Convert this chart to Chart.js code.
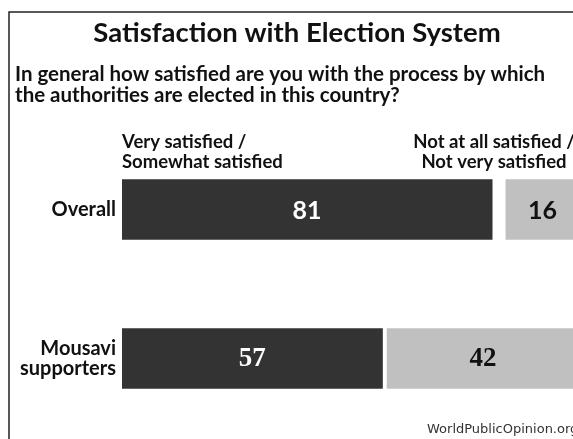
<!DOCTYPE html>
<html>
<head>
<meta charset="utf-8">
<script src="https://cdn.jsdelivr.net/npm/chart.js@4"></script>
<style>
  html, body { margin: 0; padding: 0; background: #fff; overflow: hidden; }
  .wrap { width: 573px; height: 439px; overflow: hidden; position: relative; }
  canvas { display: block; }
</style>
</head>
<body>
<div class="wrap">
  <canvas id="grafico" width="585" height="439"></canvas>
</div>
<script>
// ----- Dados -----
const categorias = ['Overall', ['Mousavi', 'supporters']];
const satisfeitos = [81, 57];
const semResposta = [3, 1];
const insatisfeitos = [16, 42];

const titulo = 'Satisfaction with Election System';
const pergunta = [
  'In general how satisfied are you with the process by which',
  'the authorities are elected in this country?'
];
const cabecalhoEsq = ['Very satisfied /', 'Somewhat satisfied'];
const cabecalhoDir = ['Not at all satisfied /', 'Not very satisfied'];
const fonte = 'WorldPublicOpinion.org';

// fonte dos números: a segunda linha do original usa serifa
const fonteValores = ['bold 25px Lato', 'bold 27px "Liberation Serif"'];

const decoracao = {
  id: 'decoracao',
  afterDatasetsDraw(chart) {
    const ctx = chart.ctx;
    ctx.save();
    ctx.textAlign = 'center';
    ctx.textBaseline = 'middle';
    [0, 2].forEach(ds => {
      const meta = chart.getDatasetMeta(ds);
      meta.data.forEach((bar, i) => {
        const valor = chart.data.datasets[ds].data[i];
        const p = bar.getProps(['x', 'y', 'base'], true);
        ctx.font = fonteValores[i];
        ctx.fillStyle = ds === 0 ? '#ffffff' : '#111111';
        ctx.fillText(String(valor), (p.x + p.base) / 2, p.y + 1);
      });
    });
    ctx.restore();
  },
  afterDraw(chart) {
    const ctx = chart.ctx;
    const area = chart.chartArea;
    ctx.save();

    // moldura
    ctx.strokeStyle = '#222';
    ctx.lineWidth = 1.5;
    ctx.beginPath();
    ctx.moveTo(9, chart.height);
    ctx.lineTo(9, 12);
    ctx.lineTo(chart.width, 12);
    ctx.stroke();

    ctx.fillStyle = '#111';
    ctx.textBaseline = 'alphabetic';

    ctx.font = 'bold 27.5px Lato';
    ctx.textAlign = 'center';
    ctx.fillText(titulo, 297, 42);

    ctx.font = 'bold 20.5px Lato';
    ctx.textAlign = 'left';
    pergunta.forEach((linha, i) => ctx.fillText(linha, 15, 81 + i * 21));

    ctx.font = 'bold 18.5px Lato';
    cabecalhoEsq.forEach((linha, i) => ctx.fillText(linha, area.left, 148 + i * 20));
    ctx.textAlign = 'center';
    cabecalhoDir.forEach((linha, i) => ctx.fillText(linha, 494, 148 + i * 20));

    ctx.font = '13px "DejaVu Sans"';
    ctx.fillStyle = '#333';
    ctx.textAlign = 'left';
    ctx.fillText(fonte, 427, 433);

    ctx.restore();
  }
};

const ctxGrafico = document.getElementById('grafico').getContext('2d');

new Chart(ctxGrafico, {
  type: 'bar',
  data: {
    labels: categorias,
    datasets: [
      {
        label: 'Very satisfied / Somewhat satisfied',
        data: satisfeitos,
        backgroundColor: '#333333',
        barThickness: 60
      },
      {
        label: "Don't know",
        data: semResposta,
        backgroundColor: 'rgba(0,0,0,0)',
        barThickness: 60
      },
      {
        label: 'Not at all satisfied / Not very satisfied',
        data: insatisfeitos,
        backgroundColor: '#c0c0c0',
        barThickness: 60
      }
    ]
  },
  options: {
    indexAxis: 'y',
    responsive: false,
    animation: false,
    layout: {
      padding: { top: 135, bottom: 6, left: 0, right: 6 }
    },
    scales: {
      x: {
        stacked: true,
        min: 0,
        max: 100,
        display: false
      },
      y: {
        stacked: true,
        grid: { display: false, drawTicks: false },
        border: { display: false },
        ticks: {
          padding: 6,
          color: '#111',
          font: { family: 'Lato', weight: 'bold', size: 20, lineHeight: 1.0 }
        },
        afterFit(axis) {
          axis.width = 122;
          axis.paddingTop = 0;
          axis.paddingBottom = 0;
        }
      }
    },
    plugins: {
      legend: { display: false },
      tooltip: { enabled: false }
    }
  },
  plugins: [decoracao]
});
</script>
</body>
</html>
